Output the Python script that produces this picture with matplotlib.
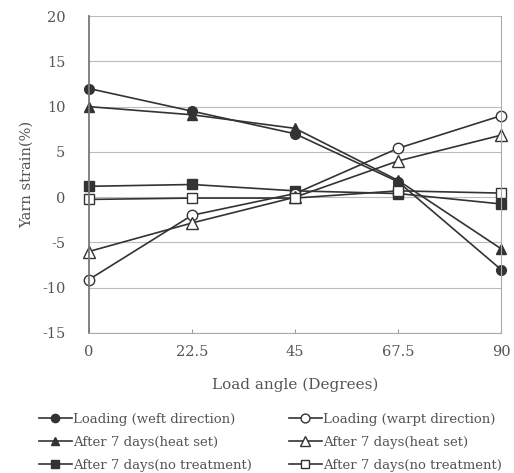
import matplotlib
matplotlib.use("Agg")
import matplotlib.pyplot as plt

plt.rcParams['font.family'] = ['DejaVu Serif']
plt.rcParams['axes.unicode_minus'] = False

angles = [0, 22.5, 45, 67.5, 90]
angle_labels = ['0', '22.5', '45', '67.5', '90']

weft_loading = [12.0, 9.5, 7.0, 1.7, -8.0]
weft_heat = [10.0, 9.1, 7.6, 1.85, -5.7]
weft_none = [1.2, 1.4, 0.7, 0.4, -0.75]
warp_loading = [-9.1, -2.0, 0.4, 5.4, 9.0]
warp_heat = [-6.0, -2.85, 0.0, 4.0, 6.85]
warp_none = [-0.25, -0.1, -0.1, 0.7, 0.45]

lc = '#333333'
tc = '#555555'

fig = plt.figure(figsize=(5.14, 4.73), dpi=100)
ax = fig.add_axes([0.173, 0.296, 0.802, 0.670])

ax.plot(angles, weft_loading, '-o', color=lc, mfc=lc, mec=lc, ms=7, lw=1.2, label='Loading (weft direction)')
ax.plot(angles, weft_heat, '-^', color=lc, mfc=lc, mec=lc, ms=7.5, lw=1.2, label='After 7 days(heat set)')
ax.plot(angles, weft_none, '-s', color=lc, mfc=lc, mec=lc, ms=6.5, lw=1.2, label='After 7 days(no treatment)')
ax.plot(angles, warp_loading, '-o', color=lc, mfc='white', mec=lc, ms=7.5, lw=1.2, label='Loading (warpt direction)')
ax.plot(angles, warp_heat, '-^', color=lc, mfc='white', mec=lc, ms=8, lw=1.2, label='After 7 days(heat set)')
ax.plot(angles, warp_none, '-s', color=lc, mfc='white', mec=lc, ms=7, lw=1.2, label='After 7 days(no treatment)')

ax.set_xlim(0, 90)
ax.set_ylim(-15, 20)
ax.set_xticks(angles)
ax.set_xticklabels(angle_labels)
ax.set_yticks(range(-15, 21, 5))
ax.yaxis.grid(True, color='#bbbbbb', lw=0.8)
ax.set_axisbelow(True)
ax.tick_params(axis='y', length=0, pad=17, labelsize=10.5, labelcolor=tc)
ax.tick_params(axis='x', direction='in', length=3, color='#999999', pad=9, labelsize=10.5, labelcolor=tc)
for s in ['top', 'right', 'bottom']:
    ax.spines[s].set_color('#aaaaaa')
ax.spines['left'].set_color('#777777')
ax.spines['left'].set_linewidth(1.3)
ax.spines['top'].set_visible(False)
for ln in ax.lines:
    ln.set_clip_on(False)

ax.set_xlabel('Load angle (Degrees)', fontsize=11, color=tc, labelpad=13)
ax.set_ylabel('Yarn strain(%)', fontsize=10.5, color=tc, labelpad=6)

# legend in two columns under the axes
leg = ax.legend(loc='upper left', bbox_to_anchor=(-0.135, -0.235), ncol=2, frameon=False,
                fontsize=9.5, handlelength=2.5, handletextpad=0.1, columnspacing=2.8,
                labelspacing=0.75, borderaxespad=0, markerscale=0.85)
for t in leg.get_texts():
    t.set_color(tc)

fig.savefig('out.png', dpi=100)
